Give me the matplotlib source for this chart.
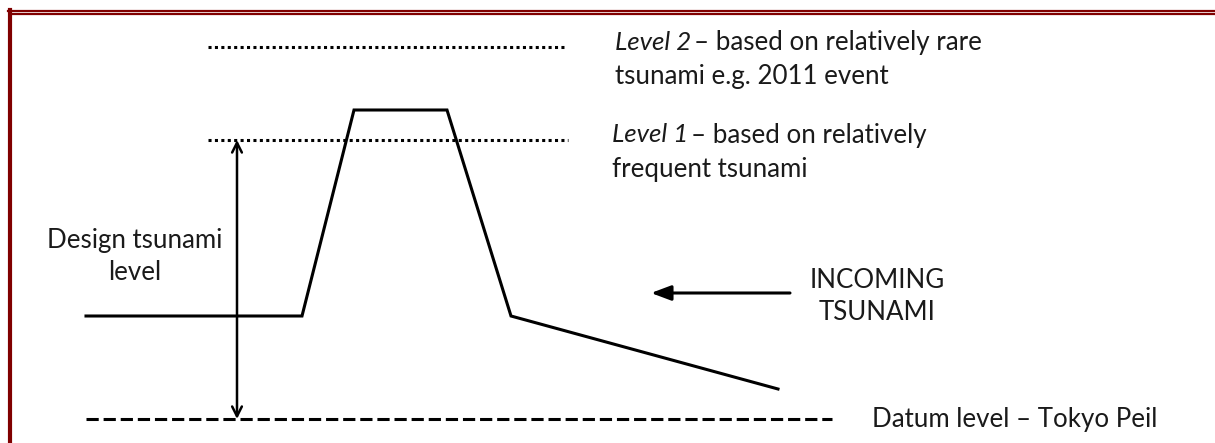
import matplotlib.pyplot as plt
from matplotlib.lines import Line2D

# diagram coordinates (pixels, y grows downwards)
profile_x = [86, 302, 354, 447, 511, 778]
profile_y = [316, 316, 110, 110, 316, 389]

level2_x = [208, 566]
level2_y = 47
level1_x = [208, 568]
level1_y = 140
datum_x = [86, 832]
datum_y = 419

design_arrow_x = 237
incoming_arrow = [790, 651]
incoming_y = 293

font = ['Lato', 'DejaVu Sans']
fs = 18.6

fig = plt.figure(figsize=(12.15, 4.43), dpi=100)
ax = fig.add_axes([0, 0, 1, 1])
ax.set_xlim(0, 1215)
ax.set_ylim(443, 0)
ax.axis('off')

# red frame
red = '#800000'
ax.add_line(Line2D([8, 1215], [10.7, 10.7], color=red, lw=1.6))
ax.add_line(Line2D([10, 1215], [14, 14], color=red, lw=1.6))
ax.add_line(Line2D([10, 10], [10, 443], color=red, lw=3))

# ground / wall profile
ax.plot(profile_x, profile_y, color='black', lw=2.2, solid_joinstyle='miter')

# levels
ax.plot(level2_x, [level2_y] * 2, color='black', lw=2.2, linestyle=(0, (1, 1.1)), dash_capstyle='butt')
ax.plot(level1_x, [level1_y] * 2, color='black', lw=2.2, linestyle=(0, (1, 1.1)), dash_capstyle='butt')
ax.plot(datum_x, [datum_y] * 2, color='black', lw=2.2, linestyle=(0, (4, 1.6)), dash_capstyle='butt')

# design tsunami level arrow
ax.annotate('', xy=(design_arrow_x, level1_y), xytext=(design_arrow_x, datum_y),
            arrowprops=dict(arrowstyle='<->,head_length=0.7,head_width=0.35', lw=1.8, color='black',
                            shrinkA=0, shrinkB=0))

# incoming tsunami arrow
ax.annotate('', xy=(incoming_arrow[1], incoming_y), xytext=(incoming_arrow[0], incoming_y),
            arrowprops=dict(arrowstyle='-|>,head_length=1.2,head_width=0.45', lw=2.2, color='black',
                            shrinkA=0, shrinkB=0))

tc = '#1a1a1a'
ax.text(615, 42, 'Level 2', fontsize=fs, family=font, style='italic', color=tc, va='center')
ax.text(694, 42, '\u2013 based on relatively rare', fontsize=fs, family=font, color=tc, va='center')
ax.text(615, 76, 'tsunami e.g. 2011 event', fontsize=fs, family=font, color=tc, va='center')
ax.text(612, 135, 'Level 1', fontsize=fs, family=font, style='italic', color=tc, va='center')
ax.text(691, 135, '\u2013 based on relatively', fontsize=fs, family=font, color=tc, va='center')
ax.text(612, 169, 'frequent tsunami', fontsize=fs, family=font, color=tc, va='center')

ax.text(135, 256, 'Design tsunami\nlevel', fontsize=fs, family=font, color=tc,
        ha='center', va='center', linespacing=1.35)
ax.text(877, 296, 'INCOMING\nTSUNAMI', fontsize=fs, family=font, color=tc,
        ha='center', va='center', linespacing=1.35)
ax.text(1157, 419, 'Datum level \u2013 Tokyo Peil', fontsize=fs, family=font, color=tc,
        ha='right', va='center')

fig.savefig('out.png', dpi=100)
